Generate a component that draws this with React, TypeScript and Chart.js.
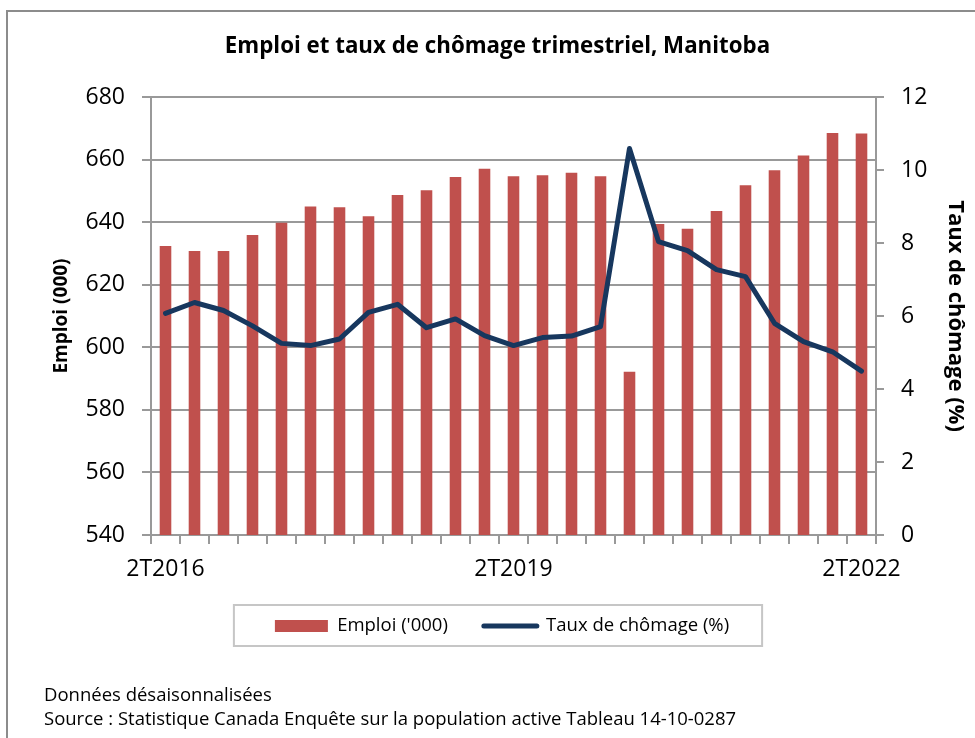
import React, { useEffect, useRef } from "react";
import { Chart, registerables } from "chart.js";

Chart.register(...registerables);

const categories = [
  "2T2016", "3T2016", "4T2016",
  "1T2017", "2T2017", "3T2017", "4T2017",
  "1T2018", "2T2018", "3T2018", "4T2018",
  "1T2019", "2T2019", "3T2019", "4T2019",
  "1T2020", "2T2020", "3T2020", "4T2020",
  "1T2021", "2T2021", "3T2021", "4T2021",
  "1T2022", "2T2022",
];

const emploi = [
  632.4, 630.8, 630.8, 635.9, 639.8, 645.0, 644.8, 641.9, 648.7, 650.2,
  654.4, 657.1, 654.7, 655.0, 655.8, 654.7, 592.2, 639.4, 637.9, 643.6,
  651.8, 656.6, 661.3, 668.5, 668.3,
];

const chomage = [
  6.07, 6.37, 6.15, 5.73, 5.25, 5.19, 5.37, 6.10, 6.32, 5.68,
  5.92, 5.46, 5.19, 5.41, 5.45, 5.71, 10.59, 8.04, 7.79, 7.27,
  7.08, 5.80, 5.30, 5.02, 4.49,
];

const shownTickLabels = ["2T2016", "2T2019", "2T2022"];

const TITLE = "Emploi et taux de chômage trimestriel, Manitoba";
const LEFT_TITLE = "Emploi (000)";
const RIGHT_TITLE = "Taux de chômage (%)";
const BAR_LABEL = "Emploi ('000)";
const LINE_LABEL = "Taux de chômage (%)";
const NOTES = [
  "Données désaisonnalisées",
  "Source : Statistique Canada Enquête sur la population active Tableau 14-10-0287",
];

const FONT = "'Open Sans', sans-serif";
const BAR_COLOR = "#C0504D";
const LINE_COLOR = "#17375E";
const GRID = "#999999";
const LEGEND_CENTER = 502;

const legendFrame = {
  id: "legendFrame",
  afterUpdate(chart: any) {
    const lg = chart.legend;
    if (!lg || !lg.legendHitBoxes || !lg.legendHitBoxes.length) return;
    const hb = lg.legendHitBoxes;
    const l = Math.min(...hb.map((b: any) => b.left));
    const r = Math.max(...hb.map((b: any) => b.left + b.width));
    const dx = LEGEND_CENTER - (l + r) / 2;
    lg.left += dx;
    lg.right += dx;
    hb.forEach((b: any) => {
      b.left += dx;
    });
  },
  afterDraw(chart: any) {
    const lg = chart.legend;
    if (!lg || !lg.legendHitBoxes || !lg.legendHitBoxes.length) return;
    const boxes = lg.legendHitBoxes;
    const left = Math.min(...boxes.map((b: any) => b.left)) - 41;
    const right = Math.max(...boxes.map((b: any) => b.left + b.width)) + 33;
    const cy = boxes[0].top + boxes[0].height / 2;
    const ctx = chart.ctx;
    ctx.save();
    ctx.strokeStyle = "#c6c6c6";
    ctx.lineWidth = 2;
    ctx.strokeRect(left, cy - 21, right - left, 41);
    ctx.restore();
  },
};

export default function App() {
  const ref = useRef<HTMLCanvasElement | null>(null);

  useEffect(() => {
    if (!ref.current) return;
    const chart = new Chart(ref.current, {
      type: "bar",
      data: {
        labels: categories,
        datasets: [
          {
            type: "bar",
            label: BAR_LABEL,
            data: emploi,
            backgroundColor: BAR_COLOR,
            borderWidth: 0,
            barPercentage: 0.4,
            categoryPercentage: 1,
            yAxisID: "y",
            order: 1,
          },
          {
            type: "line",
            label: LINE_LABEL,
            data: chomage,
            borderColor: LINE_COLOR,
            backgroundColor: LINE_COLOR,
            borderWidth: 5,
            pointRadius: 0,
            tension: 0,
            borderJoinStyle: "round",
            borderCapStyle: "round",
            yAxisID: "y1",
            order: 0,
          } as any,
        ],
      },
      options: {
        responsive: false,
        animation: false,
        devicePixelRatio: 1,
        layout: { padding: { left: 24, right: 4, top: 0, bottom: 92.75 } },
        plugins: {
          tooltip: { enabled: false },
          title: {
            display: true,
            text: TITLE,
            color: "#000",
            font: { family: FONT, size: 22.3, weight: "bold" },
            padding: { top: 33.6, bottom: 36.64 },
          },
          legend: {
            display: true,
            position: "bottom",
            labels: {
              color: "#000",
              font: { family: FONT, size: 18.5 },
              usePointStyle: true,
              pointStyleWidth: 53,
              boxHeight: 12,
              padding: 36,
              generateLabels: () => [
                {
                  text: BAR_LABEL,
                  fillStyle: BAR_COLOR,
                  strokeStyle: BAR_COLOR,
                  lineWidth: 0,
                  pointStyle: "rect",
                  datasetIndex: 0,
                  hidden: false,
                  fontColor: "#000",
                } as any,
                {
                  text: LINE_LABEL,
                  fillStyle: LINE_COLOR,
                  strokeStyle: LINE_COLOR,
                  lineWidth: 5,
                  lineCap: "round",
                  pointStyle: "line",
                  datasetIndex: 1,
                  hidden: false,
                  fontColor: "#000",
                } as any,
              ],
            },
          },
        },
        scales: {
          x: {
            offset: true,
            grid: {
              offset: true,
              drawOnChartArea: false,
              drawTicks: true,
              tickLength: 9,
              color: GRID,
              lineWidth: 2,
            },
            border: { display: true, color: GRID, width: 2 },
            ticks: {
              autoSkip: false,
              maxRotation: 0,
              minRotation: 0,
              padding: 12,
              color: "#000",
              font: { family: FONT, size: 23 },
              callback: (_v: any, i: number) =>
                shownTickLabels.includes(categories[i]) ? categories[i] : "",
            },
            afterFit: (s: any) => {
              s.height = 45.75;
            },
          },
          y: {
            position: "left",
            min: 540,
            max: 680,
            ticks: {
              stepSize: 20,
              padding: 17,
              color: "#000",
              font: { family: FONT, size: 23 },
            },
            grid: {
              color: GRID,
              lineWidth: 2,
              tickLength: 9,
              drawTicks: true,
            },
            border: { display: true, color: GRID, width: 2 },
            title: {
              display: true,
              text: LEFT_TITLE,
              color: "#000",
              font: { family: FONT, size: 19, weight: "bold" },
              padding: { top: 26, bottom: 0 },
            },
            afterFit: (s: any) => {
              s.width = 127;
            },
          },
          y1: {
            position: "right",
            min: 0,
            max: 12,
            ticks: {
              stepSize: 2,
              padding: 17,
              color: "#000",
              font: { family: FONT, size: 23 },
            },
            grid: {
              drawOnChartArea: false,
              drawTicks: true,
              tickLength: 8,
              color: GRID,
              lineWidth: 2,
            },
            border: { display: true, color: GRID, width: 2 },
            title: {
              display: true,
              text: RIGHT_TITLE,
              color: "#000",
              font: { family: FONT, size: 22, weight: "bold" },
              padding: { top: 3, bottom: 0 },
            },
            afterFit: (s: any) => {
              s.width = 95;
            },
          },
        },
      },
      plugins: [legendFrame],
    } as any);
    return () => chart.destroy();
  }, []);

  return (
    <div
      style={{
        position: "absolute",
        left: 0,
        top: 0,
        width: 975,
        height: 738,
        overflow: "hidden",
        background: "#fff",
      }}
    >
      <div
        style={{
          position: "absolute",
          left: 6,
          top: 10,
          width: 1100,
          height: 1000,
          border: "2px solid #8c8c8c",
        }}
      />
      <canvas
        ref={ref}
        width={975}
        height={738}
        style={{ position: "absolute", left: 0, top: 0, width: 975, height: 738 }}
      />
      <div
        style={{
          position: "absolute",
          left: 44,
          top: 682,
          fontFamily: FONT,
          fontSize: 18.5,
          lineHeight: "24px",
          color: "#000",
          whiteSpace: "nowrap",
        }}
      >
        {NOTES.map((n) => (
          <div key={n}>{n}</div>
        ))}
      </div>
    </div>
  );
}
